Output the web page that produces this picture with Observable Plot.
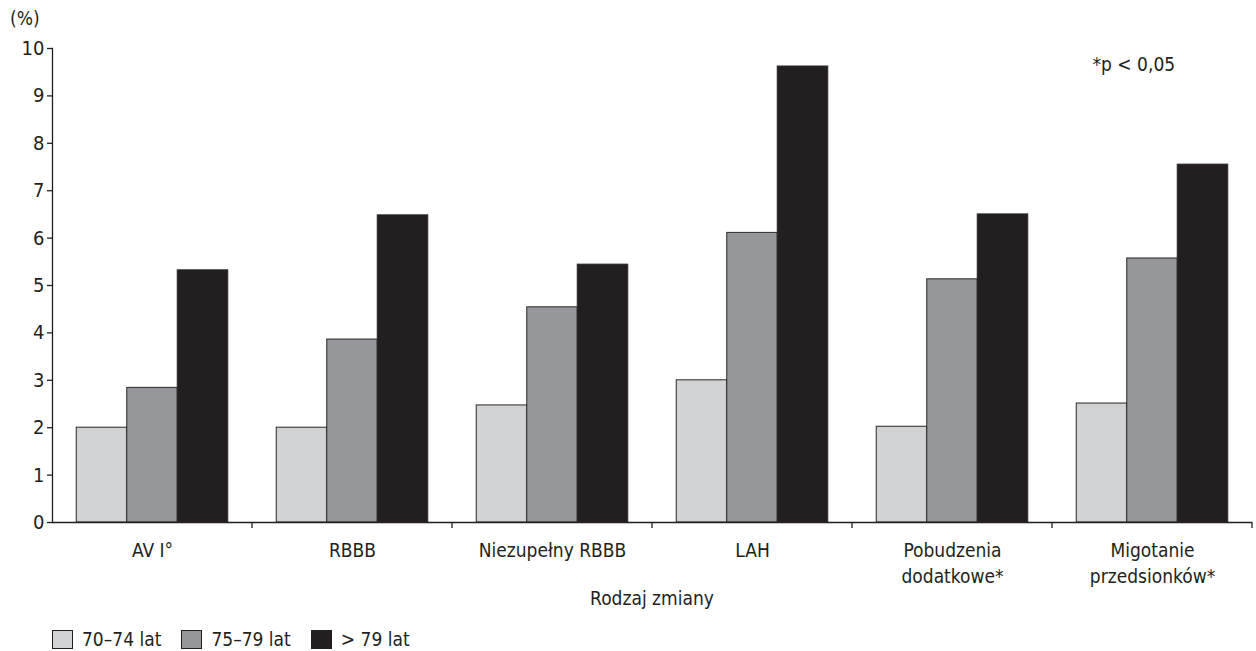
<!DOCTYPE html>
<html>
<head>
<meta charset="utf-8">
<script src="https://cdn.jsdelivr.net/npm/d3@7"></script>
<script src="https://cdn.jsdelivr.net/npm/@observablehq/plot@0.6"></script>
<style>
  body { margin: 0; background: #fff; font-family: "DejaVu Sans", sans-serif; font-stretch: condensed; color: #231f20; }
  #wrap { position: relative; width: 1256px; }
  #ylab { position: absolute; left: 10px; top: 7px; font-size: 19px; }
  #xtitle { width: 1202px; margin-left: 51px; margin-top: -22px; text-align: center; font-size: 19px; line-height: 20px; position: relative; }
  #legend { display: flex; align-items: center; margin-left: 52px; margin-top: 21px; font-size: 19px; line-height: 20px; }
  .item { display: flex; align-items: center; margin-right: 20px; }
  .sw { width: 21px; height: 19px; border: 1px solid #231f20; box-sizing: border-box; margin-right: 9px; }
  svg text { font-stretch: condensed; }
</style>
</head>
<body>
<div id="wrap">
  <div id="ylab">(%)</div>
  <div id="chart"></div>
</div>
<div id="xtitle">Rodzaj zmiany</div>
<div id="legend"></div>
<script>
const categories = ["AV I°", "RBBB", "Niezupełny RBBB", "LAH", "Pobudzenia dodatkowe*", "Migotanie przedsionków*"];
const categoryLabels = ["AV I°", "RBBB", "Niezupełny RBBB", "LAH", "Pobudzenia\ndodatkowe*", "Migotanie\nprzedsionków*"];
const groups = ["70–74 lat", "75–79 lat", "> 79 lat"];
const values7074 = [2.0, 2.0, 2.47, 3.0, 2.02, 2.51];
const values7579 = [2.84, 3.86, 4.54, 6.11, 5.13, 5.57];
const values79 = [5.32, 6.48, 5.44, 9.62, 6.5, 7.55];
const colors = ["#d1d2d4", "#96979b", "#231f20"];
const yTicks = [0, 1, 2, 3, 4, 5, 6, 7, 8, 9, 10];
const note = "*p < 0,05";

const series = [values7074, values7579, values79];
const data = [];
categories.forEach((c, i) => groups.forEach((g, j) => data.push({cat: c, grp: g, value: series[j][i]})));

const font = '"DejaVu Sans", sans-serif';

const boundaryTicks = (index, scales, values, dims) => {
  const x = dims.width - dims.marginRight;
  const y = dims.height - dims.marginBottom;
  const line = document.createElementNS("http://www.w3.org/2000/svg", "line");
  line.setAttribute("x1", x); line.setAttribute("x2", x);
  line.setAttribute("y1", y); line.setAttribute("y2", y + 6);
  line.setAttribute("stroke", "#231f20");
  line.setAttribute("stroke-width", 1.3);
  return line;
};

const chart = Plot.plot({
  width: 1256,
  height: 610,
  marginLeft: 51,
  marginRight: 3,
  marginTop: 48,
  marginBottom: 88,
  style: {fontFamily: font, fontSize: "19px", color: "#231f20", background: "#fff", fontStretch: "condensed"},
  fx: {domain: categories, padding: 0, axis: null},
  x: {domain: groups, paddingInner: 0, paddingOuter: 0.48, round: false, axis: null},
  y: {domain: [0, 10], axis: null},
  color: {domain: groups, range: colors},
  marks: [
    Plot.barY(data, {fx: "cat", x: "grp", y: "value", fill: "grp", stroke: "#2a2728", strokeWidth: 1}),
    Plot.ruleY([0], {stroke: "#231f20", strokeWidth: 1.3}),
    Plot.frame({anchor: "left", facetAnchor: "left", stroke: "#231f20", strokeWidth: 1.3}),
    Plot.axisY({ticks: yTicks, tickSize: 5, tickPadding: 3, label: null, fontSize: 20, stroke: "#231f20", strokeWidth: 1.3}),
    boundaryTicks,
    Plot.text(categories, {fx: d => d, text: (d, i) => categoryLabels[i], frameAnchor: "bottom", lineAnchor: "top", dy: 16, lineHeight: 1.38, fontSize: 19, fill: "#231f20"}),
    Plot.text([categories[5]], {fx: d => d, text: [note], frameAnchor: "top-left", textAnchor: "start", lineAnchor: "top", dx: 40, dy: 9, fontSize: 19, fill: "#231f20"})
  ]
});
document.getElementById("chart").appendChild(chart);

const legend = document.getElementById("legend");
groups.forEach((g, i) => {
  const item = document.createElement("div");
  item.className = "item";
  const sw = document.createElement("div");
  sw.className = "sw";
  sw.style.background = colors[i];
  const t = document.createElement("span");
  t.textContent = g;
  item.appendChild(sw); item.appendChild(t);
  legend.appendChild(item);
});
</script>
</body>
</html>
